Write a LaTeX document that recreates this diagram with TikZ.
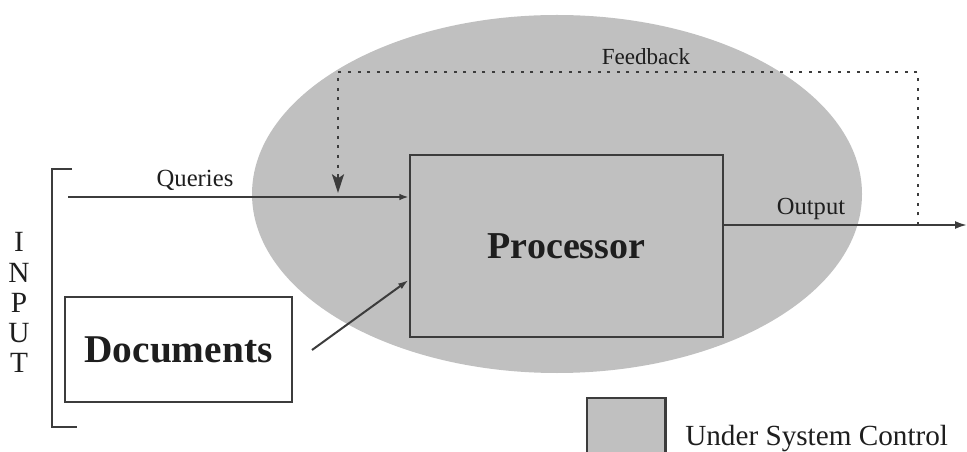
\documentclass[tikz,border=0pt]{standalone}
\usepackage{fontspec}
\setmainfont{Liberation Serif}
\usetikzlibrary{arrows.meta}
\definecolor{inkgray}{RGB}{60,60,60}
\definecolor{textink}{RGB}{30,30,30}
\definecolor{ctrlgray}{RGB}{192,192,192}
\newcommand{\setfs}[1]{\fontsize{#1}{#1}\selectfont}

\begin{document}
\begin{tikzpicture}[x=0.75pt,y=-0.75pt,
  box/.style={draw=inkgray, line width=2pt, rectangle, inner sep=0pt},
  conn/.style={draw=inkgray, line width=1.5pt},
  fbline/.style={draw=inkgray, line width=1.5pt, dash pattern=on 2.2pt off 5pt},
  lbl/.style={text=textink, anchor=base, inner sep=0pt},
]
\useasboundingbox (0,0) rectangle (967,452);

% region under system control
\fill[ctrlgray] (557,194) ellipse [x radius=305, y radius=179];

% main boxes
\node[box, minimum width=234.75pt, minimum height=136.5pt,
      font=\setfs{28.5}\bfseries, text=textink] (proc) at (566.5,246) {Processor};
\node[box, fill=white, minimum width=170.25pt, minimum height=78.75pt,
      font=\setfs{29.5}\bfseries, text=textink] (docs) at (178.5,349.5) {Documents};

% input bracket
\draw[inkgray, line width=2.2pt] (72,169) -- (52,169) -- (52,427) -- (77,427);
\foreach \ch [count=\i] in {I,N,P,U,T}
  \node[lbl, font=\setfs{22}] (input\i) at (19,222+30*\i) {\ch};

% queries
\coordinate (qin) at (68,197);
\draw[conn, -{Latex[length=7pt,width=5pt]}] (qin) -- (qin -| proc.west);
\node[lbl, font=\setfs{18.5}] (qlbl) at (195,187) {Queries};

% documents into processor
\coordinate (dtail) at (312,350);
\coordinate (dref) at (0,280);
\draw[conn, -{Latex[length=8pt,width=5pt]}] (dtail) -- (proc.west |- dref);

% output
\coordinate (oend) at (967,225);
\draw[conn, -{Latex[length=9pt,width=6pt]}] (oend -| proc.east) -- (oend);
\node[lbl, font=\setfs{18.4}] (olbl) at (811,215) {Output};

% feedback loop
\coordinate (fbsrc) at (918,225);
\coordinate (fbtop) at (918,72);
\coordinate (fbleft) at (338,72);
\draw[fbline] (fbsrc) -- (fbtop) -- (fbleft) -- ([yshift=14pt]fbleft |- qin);
\draw[conn, -{Stealth[length=14pt,width=9pt,inset=3pt]}]
  ([yshift=15pt]fbleft |- qin) -- ([yshift=3pt]fbleft |- qin);
\node[lbl, font=\setfs{17.3}] (fblbl) at (646,65) {Feedback};

% legend
\node[fill=ctrlgray, inner sep=0pt, minimum width=58.5pt, minimum height=42pt,
      anchor=north west] (key) at (587,398) {};
\draw[inkgray, line width=2pt] (key.south west) -- (key.north west)
  -- (key.north east) -- (key.south east);
\node[lbl, anchor=base west, font=\setfs{21.9}] (keytxt) at (685,445) {Under System Control};
\end{tikzpicture}
\end{document}
